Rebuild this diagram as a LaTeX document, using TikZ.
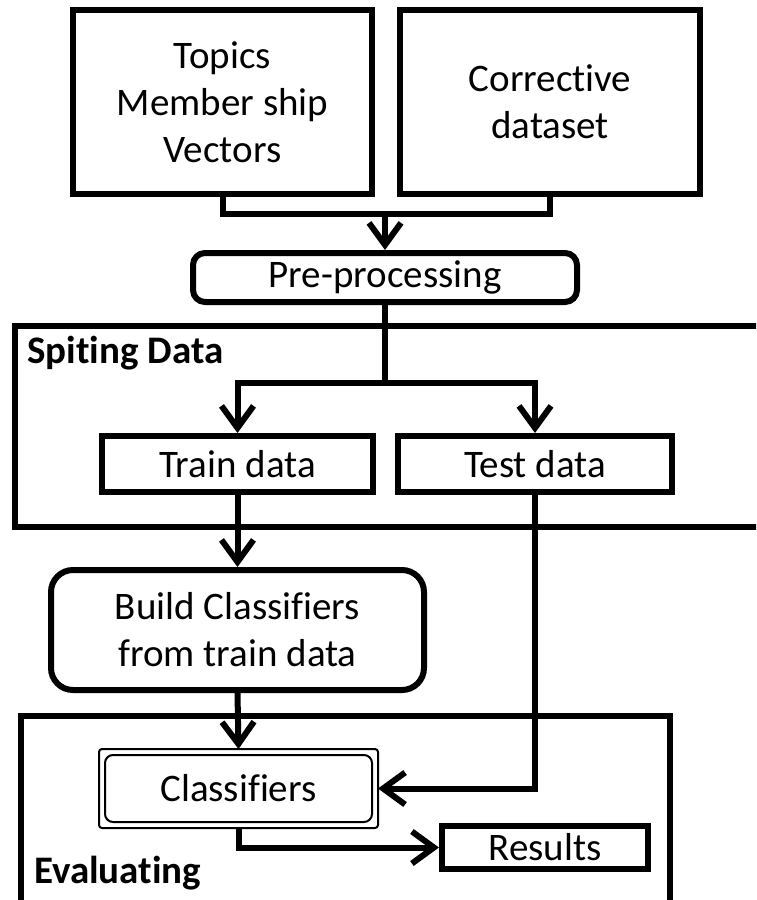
\documentclass[tikz,border=0pt]{standalone}
\usepackage{fontspec}
\setmainfont{Carlito}[Ligatures=NoCommon]
\usetikzlibrary{arrows.meta}
\begin{document}
\begin{tikzpicture}[x=1pt,y=-1pt,
  every node/.style={font=\fontsize{39}{47}\selectfont, align=center, inner sep=0pt},
  blk/.style={draw, line width=6pt, rectangle},
  rnd/.style={blk, rounded corners=#1},
  grp/.style={line width=6pt},
  lbl/.style={anchor=west, font=\fontsize{39}{47}\selectfont\bfseries},
  line/.style={line width=6pt},
  flow/.style={line width=6pt, -{Straight Barb[length=22pt,width=32pt]}}]
\useasboundingbox (0,0) rectangle (756,900);
\clip (0,0) rectangle (756,900);

% input boxes
\node[blk, minimum width=299pt, minimum height=184pt] (topics) at (222.5,102) {Topics\\Member ship\\Vectors};
\node[blk, minimum width=300pt, minimum height=184pt] (corr) at (550,102) {Corrective\\dataset};
\node[rnd=12pt, minimum width=384pt, minimum height=49pt] (pre) at (385,277.5) {Pre-processing};

% splitting stage
\draw[grp] (15,326) rectangle (780,527);
\node[lbl] (splitlbl) at (27,353) {Spiting Data};
\node[blk, minimum width=271pt, minimum height=56pt] (train) at (237.5,464) {Train data};
\node[blk, minimum width=274pt, minimum height=56pt] (test) at (535,464) {Test data};

% training
\node[rnd=22pt, minimum width=373pt, minimum height=120pt] (build) at (237.5,630) {Build Classifiers\\from train data};

% evaluation stage
\draw[grp] (21,716) rectangle (670,920);
\node[lbl] (evallbl) at (34,873) {Evaluating};
\node[draw, line width=2pt, rounded corners=8pt, minimum width=267pt, minimum height=67pt] (cls) at (238.5,788.5) {Classifiers};
\draw[line width=2pt, rounded corners=3pt] ([xshift=-5pt,yshift=5pt]cls.north west) rectangle ([xshift=5pt,yshift=-5pt]cls.south east);
\node[blk, minimum width=206pt, minimum height=43pt] (results) at (545,847.5) {Results};

% connectors
\coordinate (m) at (385,214);
\draw[line] (topics.south) |- (m) -| (corr.south);
\draw[flow] (m) -- (pre.north);
\coordinate (s) at (385,383);
\draw[line] (pre.south) -- (s);
\draw[flow] (s) -| (train.north);
\draw[flow] (s) -| (test.north);
\draw[flow] (train.south) -- (build.north);
\draw[flow] (build.south) -- ([yshift=5pt]cls.north);
\draw[flow] (test.south) |- ([xshift=5pt]cls.east);
\draw[flow] ([yshift=-5pt]cls.south) |- (results.west);
\end{tikzpicture}
\end{document}
